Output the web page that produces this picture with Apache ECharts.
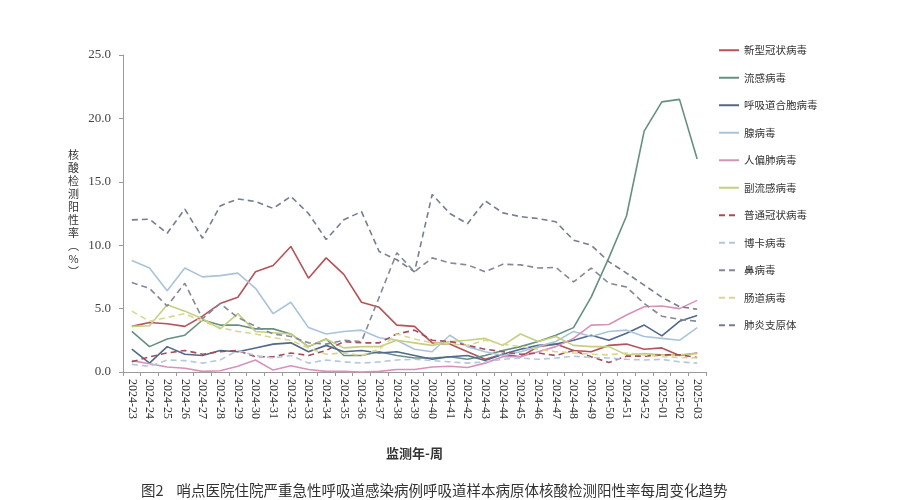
<!DOCTYPE html>
<html style="height: 100%">
<head>
    <meta charset="utf-8">
    <title>哨点医院病原体核酸检测阳性率</title>
    <script type="text/javascript" src="https://cdn.jsdelivr.net/npm/echarts@6/dist/echarts.min.js"></script>
    <script type="application/javascript">
        // 监测周
        var weeks = ['2024-23', '2024-24', '2024-25', '2024-26', '2024-27', '2024-28', '2024-29', '2024-30',
            '2024-31', '2024-32', '2024-33', '2024-34', '2024-35', '2024-36', '2024-37', '2024-38', '2024-39',
            '2024-40', '2024-41', '2024-42', '2024-43', '2024-44', '2024-45', '2024-46', '2024-47', '2024-48',
            '2024-49', '2024-50', '2024-51', '2024-52', '2025-01', '2025-02', '2025-03'];

        var yTicks = [0, 5, 10, 15, 20, 25];

        // 阳性率（%）
        var covid = [3.6, 3.9, 3.8, 3.6, 4.4, 5.4, 5.9, 7.9, 8.4, 9.9, 7.4, 9.0, 7.7, 5.5, 5.1, 3.7, 3.6,
            2.3, 2.2, 1.6, 1.0, 1.4, 1.2, 2.0, 2.2, 1.7, 1.6, 2.1, 2.2, 1.8, 1.9, 1.3, 1.5];
        var flu = [3.2, 2.0, 2.6, 2.9, 4.1, 3.7, 3.7, 3.4, 3.4, 3.0, 2.0, 2.6, 1.3, 1.3, 1.6, 1.3, 1.1,
            1.1, 1.2, 1.0, 1.3, 1.7, 2.0, 2.4, 2.9, 3.5, 5.9, 9.0, 12.3, 19.0, 21.3, 21.5, 16.8];
        var rsv = [1.8, 0.7, 2.0, 1.4, 1.3, 1.7, 1.6, 1.9, 2.2, 2.3, 1.6, 2.1, 1.6, 1.7, 1.5, 1.6, 1.3,
            1.0, 1.2, 1.3, 0.9, 1.4, 1.8, 2.1, 2.2, 2.5, 2.9, 2.5, 3.05, 3.7, 2.85, 4.0, 4.45];
        var adv = [8.8, 8.2, 6.4, 8.2, 7.5, 7.6, 7.8, 6.6, 4.6, 5.5, 3.5, 3.0, 3.2, 3.3, 2.7, 2.5, 1.8,
            1.6, 2.9, 2.0, 1.6, 1.3, 1.6, 2.0, 2.4, 3.2, 2.8, 3.2, 3.3, 2.8, 2.65, 2.5, 3.5];
        var hmpv = [0.9, 0.65, 0.4, 0.3, 0.05, 0.1, 0.45, 0.95, 0.15, 0.5, 0.2, 0.05, 0.05, 0.0, 0.05, 0.2, 0.2,
            0.4, 0.45, 0.35, 0.7, 1.2, 1.2, 1.6, 2.0, 2.65, 3.7, 3.75, 4.5, 5.15, 5.2, 5.0, 5.65];
        var piv = [3.6, 3.65, 5.3, 4.8, 4.2, 3.4, 4.6, 3.2, 3.1, 3.0, 2.0, 2.6, 1.9, 2.0, 2.0, 2.5, 2.3,
            2.1, 2.4, 2.5, 2.65, 2.1, 3.0, 2.4, 2.8, 2.1, 2.0, 2.0, 1.35, 1.45, 1.35, 1.35, 1.45];
        var hcov = [0.8, 1.2, 1.5, 1.7, 1.4, 1.6, 1.7, 1.2, 1.2, 1.5, 1.3, 1.7, 2.4, 2.3, 2.3, 3.0, 3.3,
            2.5, 2.4, 2.1, 1.8, 1.6, 1.4, 1.5, 1.3, 1.7, 1.2, 0.75, 1.25, 1.25, 1.35, 1.35, 1.15];
        var hbov = [0.6, 0.45, 0.95, 0.9, 0.7, 0.95, 1.7, 1.3, 1.1, 1.3, 0.7, 0.95, 0.8, 0.7, 0.8, 0.95, 1.0,
            0.9, 0.8, 0.7, 0.8, 1.0, 1.1, 1.0, 1.1, 1.25, 1.15, 1.1, 1.0, 0.95, 1.0, 0.8, 0.7];
        var rhino = [7.05, 6.6, 5.2, 7.0, 4.2, 5.4, 4.3, 3.6, 3.0, 2.8, 2.3, 2.2, 2.5, 2.4, 5.9, 9.4, 7.9,
            9.0, 8.6, 8.45, 7.9, 8.5, 8.45, 8.2, 8.25, 7.1, 8.2, 7.0, 6.7, 5.4, 4.4, 4.15, 4.0];
        var entero = [4.8, 4.0, 4.3, 4.6, 4.0, 3.5, 3.2, 3.0, 2.7, 2.5, 1.9, 1.4, 1.5, 1.3, 1.8, 3.0, 2.6,
            2.3, 2.2, 2.1, 2.5, 2.2, 2.0, 1.8, 1.6, 1.5, 1.4, 1.35, 1.5, 1.35, 1.2, 1.15, 1.1];
        var mp = [12.0, 12.05, 10.95, 12.85, 10.55, 13.1, 13.65, 13.45, 12.9, 13.85, 12.5, 10.45, 12.0, 12.65, 9.5, 8.85, 7.9,
            14.0, 12.5, 11.7, 13.5, 12.55, 12.25, 12.1, 11.85, 10.4, 10.0, 8.7, 7.8, 6.85, 5.9, 5.15, 4.95];

        var seriesDefs = [
            ['新型冠状病毒', covid, '#b4535a', 'solid'],
            ['流感病毒', flu, '#66907f', 'solid'],
            ['呼吸道合胞病毒', rsv, '#51698a', 'solid'],
            ['腺病毒', adv, '#a9c4da', 'solid'],
            ['人偏肺病毒', hmpv, '#d792bb', 'solid'],
            ['副流感病毒', piv, '#c6cf7e', 'solid'],
            ['普通冠状病毒', hcov, '#a44d5c', [6, 4]],
            ['博卡病毒', hbov, '#b3c8dc', [6, 4]],
            ['鼻病毒', rhino, '#858896', [6, 4]],
            ['肠道病毒', entero, '#d8d78d', [6, 4]],
            ['肺炎支原体', mp, '#777d8e', [6, 4]]
        ];
    </script>
</head>

<body style="width: 100%;margin: 0;height: 100%;background: #fff">
<div id="container" style="width: 906px;height: 500px"></div>

<script type="application/javascript">
    var dom = document.getElementById("container");
    var myChart = echarts.init(dom);

    var serif = '"Liberation Serif", "Noto Sans CJK SC", serif';
    var cjk = '"Noto Sans CJK SC", sans-serif';

    var series = [];
    for (var i = 0; i < seriesDefs.length; i++) {
        series.push({
            name: seriesDefs[i][0],
            type: 'line',
            data: seriesDefs[i][1],
            symbol: 'none',
            smooth: false,
            lineStyle: {color: seriesDefs[i][2], width: 1.6, type: seriesDefs[i][3]},
            itemStyle: {color: seriesDefs[i][2]}
        });
    }

    var option = {
        backgroundColor: '#fff',
        animation: false,
        title: {
            text: '图2    哨点医院住院严重急性呼吸道感染病例呼吸道样本病原体核酸检测阳性率每周变化趋势',
            left: 136,
            top: 478,
            textStyle: {fontFamily: cjk, fontSize: 14.5, fontWeight: 'normal', color: '#333'}
        },
        legend: {
            orient: 'vertical',
            left: 713,
            top: 40,
            itemWidth: 20,
            itemHeight: 12,
            itemGap: 17,
            itemStyle: {opacity: 0},
            textStyle: {fontFamily: cjk, fontSize: 10.5, color: '#333'},
            data: seriesDefs.map(function (d) { return d[0]; })
        },
        graphic: [{
            type: 'text',
            left: 68,
            top: 148,
            style: {
                text: '核\n酸\n检\n测\n阳\n性\n率\n︵\n%\n︶',
                font: '11px ' + cjk,
                lineHeight: 13,
                fill: '#333',
                textAlign: 'center'
            }
        }],
        grid: {left: 123, right: 200, top: 55, bottom: 128},
        xAxis: {
            type: 'category',
            data: weeks,
            boundaryGap: true,
            name: '监测年-周',
            nameLocation: 'middle',
            nameGap: 75,
            nameTextStyle: {fontFamily: cjk, fontSize: 13, fontWeight: 'bold', color: '#333'},
            axisLine: {lineStyle: {color: '#9a9a9a'}},
            axisTick: {show: true, length: 4, lineStyle: {color: '#9a9a9a'}},
            axisLabel: {rotate: -90, margin: 7, fontFamily: serif, fontSize: 12, color: '#333', interval: 0},
            splitLine: {show: false}
        },
        yAxis: {
            type: 'value',
            min: yTicks[0],
            max: yTicks[yTicks.length - 1],
            interval: 5,
            axisLine: {show: true, lineStyle: {color: '#9a9a9a'}},
            axisTick: {show: true, length: 4, lineStyle: {color: '#9a9a9a'}},
            axisLabel: {
                margin: 12, fontFamily: serif, fontSize: 13, color: '#444',
                formatter: function (v) { return v.toFixed(1); }
            },
            splitLine: {show: false}
        },
        series: series
    };

    if (option && typeof option === "object") {
        myChart.setOption(option, true);
    }
</script>
</body>
</html>
